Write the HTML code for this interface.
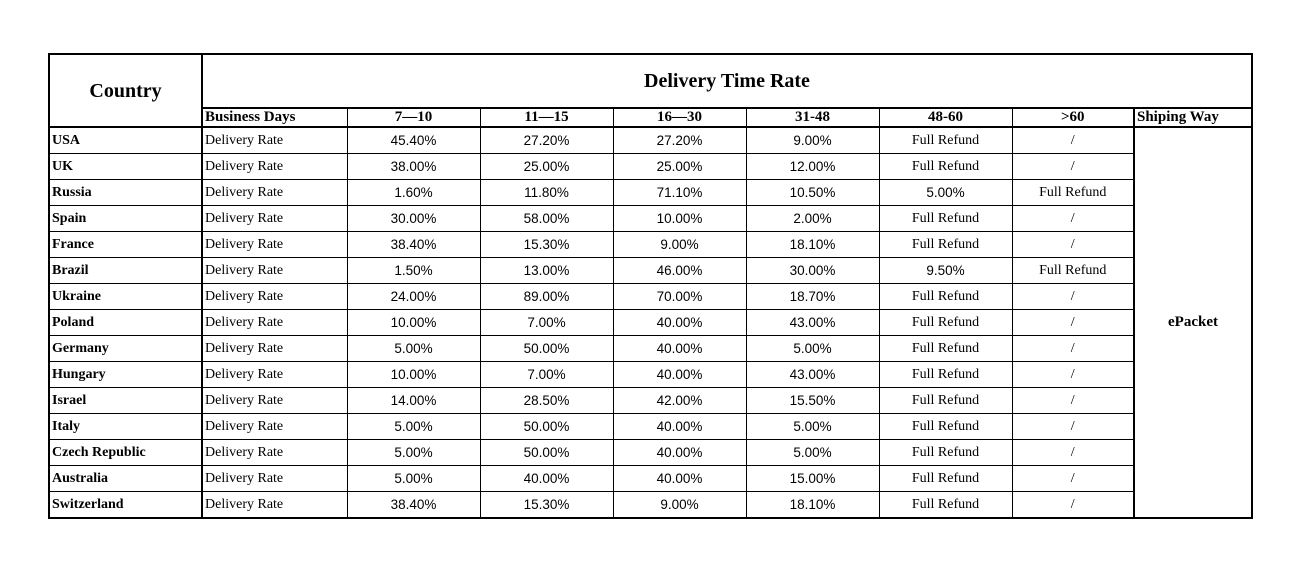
<!DOCTYPE html>
<html><head><meta charset="utf-8"><style>
body{margin:0;background:#fff;width:1301px;height:576px;overflow:hidden;position:relative;font-family:"Liberation Serif",serif;color:#000}
table{position:absolute;left:48px;top:53px;border-collapse:collapse;table-layout:fixed;border:2px solid #000}
td{border:1px solid #000;padding:0;font-size:14px;white-space:nowrap;overflow:hidden;height:25px;line-height:25px;text-align:center}
td.l{text-align:left;padding-left:2px}
td.b{font-weight:bold}
.n{font-family:"Liberation Sans",sans-serif;font-size:13.5px}
tr.h td{border-bottom:2px solid #000;height:17px;line-height:17px;font-size:15px;font-weight:bold}
.c1{border-right:2px solid #000}
.sw{border-left:2px solid #000}
</style></head><body>
<table>
<colgroup><col style="width:153px"><col style="width:145px"><col style="width:133px"><col style="width:133px"><col style="width:133px"><col style="width:133px"><col style="width:133px"><col style="width:122px"><col style="width:118px"></colgroup>
<tr><td rowspan="2" class="b c1" style="font-size:20px;line-height:20px;border-bottom:2px solid #000">Country</td><td colspan="8" class="b" style="font-size:20px;height:52px;line-height:52px;border-bottom:2px solid #000">Delivery Time Rate</td></tr>
<tr class="h"><td class="l">Business Days</td><td>7—10</td><td>11—15</td><td>16—30</td><td>31-48</td><td>48-60</td><td>&gt;60</td><td class="l sw">Shiping Way</td></tr>
<tr><td class="l b c1">USA</td><td class="l">Delivery Rate</td><td class="n">45.40%</td><td class="n">27.20%</td><td class="n">27.20%</td><td class="n">9.00%</td><td>Full Refund</td><td>/</td><td rowspan="15" class="b sw" style="font-size:15px">ePacket</td></tr>
<tr><td class="l b c1">UK</td><td class="l">Delivery Rate</td><td class="n">38.00%</td><td class="n">25.00%</td><td class="n">25.00%</td><td class="n">12.00%</td><td>Full Refund</td><td>/</td></tr>
<tr><td class="l b c1">Russia</td><td class="l">Delivery Rate</td><td class="n">1.60%</td><td class="n">11.80%</td><td class="n">71.10%</td><td class="n">10.50%</td><td class="n">5.00%</td><td>Full Refund</td></tr>
<tr><td class="l b c1">Spain</td><td class="l">Delivery Rate</td><td class="n">30.00%</td><td class="n">58.00%</td><td class="n">10.00%</td><td class="n">2.00%</td><td>Full Refund</td><td>/</td></tr>
<tr><td class="l b c1">France</td><td class="l">Delivery Rate</td><td class="n">38.40%</td><td class="n">15.30%</td><td class="n">9.00%</td><td class="n">18.10%</td><td>Full Refund</td><td>/</td></tr>
<tr><td class="l b c1">Brazil</td><td class="l">Delivery Rate</td><td class="n">1.50%</td><td class="n">13.00%</td><td class="n">46.00%</td><td class="n">30.00%</td><td class="n">9.50%</td><td>Full Refund</td></tr>
<tr><td class="l b c1">Ukraine</td><td class="l">Delivery Rate</td><td class="n">24.00%</td><td class="n">89.00%</td><td class="n">70.00%</td><td class="n">18.70%</td><td>Full Refund</td><td>/</td></tr>
<tr><td class="l b c1">Poland</td><td class="l">Delivery Rate</td><td class="n">10.00%</td><td class="n">7.00%</td><td class="n">40.00%</td><td class="n">43.00%</td><td>Full Refund</td><td>/</td></tr>
<tr><td class="l b c1">Germany</td><td class="l">Delivery Rate</td><td class="n">5.00%</td><td class="n">50.00%</td><td class="n">40.00%</td><td class="n">5.00%</td><td>Full Refund</td><td>/</td></tr>
<tr><td class="l b c1">Hungary</td><td class="l">Delivery Rate</td><td class="n">10.00%</td><td class="n">7.00%</td><td class="n">40.00%</td><td class="n">43.00%</td><td>Full Refund</td><td>/</td></tr>
<tr><td class="l b c1">Israel</td><td class="l">Delivery Rate</td><td class="n">14.00%</td><td class="n">28.50%</td><td class="n">42.00%</td><td class="n">15.50%</td><td>Full Refund</td><td>/</td></tr>
<tr><td class="l b c1">Italy</td><td class="l">Delivery Rate</td><td class="n">5.00%</td><td class="n">50.00%</td><td class="n">40.00%</td><td class="n">5.00%</td><td>Full Refund</td><td>/</td></tr>
<tr><td class="l b c1">Czech Republic</td><td class="l">Delivery Rate</td><td class="n">5.00%</td><td class="n">50.00%</td><td class="n">40.00%</td><td class="n">5.00%</td><td>Full Refund</td><td>/</td></tr>
<tr><td class="l b c1">Australia</td><td class="l">Delivery Rate</td><td class="n">5.00%</td><td class="n">40.00%</td><td class="n">40.00%</td><td class="n">15.00%</td><td>Full Refund</td><td>/</td></tr>
<tr><td class="l b c1">Switzerland</td><td class="l">Delivery Rate</td><td class="n">38.40%</td><td class="n">15.30%</td><td class="n">9.00%</td><td class="n">18.10%</td><td>Full Refund</td><td>/</td></tr>
</table>
</body></html>
